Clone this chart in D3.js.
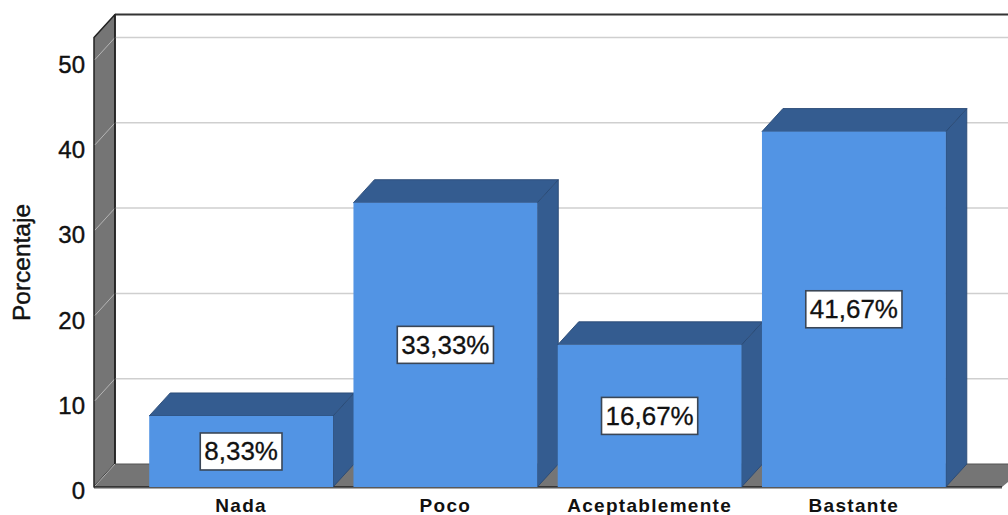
<!DOCTYPE html>
<html>
<head>
<meta charset="utf-8">
<script src="https://d3js.org/d3.v7.min.js"></script>
<style>
  html, body { margin: 0; padding: 0; background: #fff; overflow: hidden; }
  svg { display: block; }
  text { font-family: "Liberation Sans", Arial, sans-serif; fill: #111; }
</style>
</head>
<body>
<svg id="chart" width="1008" height="515"></svg>
<script>
  // The data:
  var CATEGORIES = ["Nada", "Poco", "Aceptablemente", "Bastante"];
  var VALUES = [8.33, 33.33, 16.67, 41.67];
  var LABELS = ["8,33%", "33,33%", "16,67%", "41,67%"];
  var Y_TICKS = [0, 10, 20, 30, 40, 50];

  // Depth of the 3d effect (in screen pixels):
  var DX = 21;
  var DY = -23;

  var LEFT = 94;
  var RIGHT = 1002;
  var BASE = 487;
  var WALL_TOP = 52.7; // value reached by the front edge of the wall

  var svg = d3.select("#chart");

  var y = d3.scaleLinear().domain([0, 50]).range([BASE, 60.5]);
  var x = d3.scaleBand()
    .domain(CATEGORIES)
    .range([139, 956])
    .paddingInner(0.1)
    .paddingOuter(0.05);

  function poly(sel, pts, fill, stroke, sw) {
    return sel.append("polygon")
      .attr("points", pts.map(function (p) { return p.join(","); }).join(" "))
      .attr("fill", fill)
      .attr("stroke", stroke || "none")
      .attr("stroke-width", sw || 0)
      .attr("stroke-linejoin", "round");
  }

  // Walls and floor:
  var walls = svg.append("g");
  var wall_top = y(WALL_TOP);

  poly(walls, [
    [LEFT, wall_top], [LEFT + DX, wall_top + DY],
    [LEFT + DX, BASE + DY], [LEFT, BASE]
  ], "#757575", "#222", 1.5);

  poly(walls, [
    [LEFT, BASE], [LEFT + DX, BASE + DY],
    [1030, BASE + DY], [RIGHT, BASE]
  ], "#757575");

  // Gridlines, back wall and then the slanted part:
  walls.selectAll(".grid")
    .data(Y_TICKS.slice(1))
    .enter().append("line")
    .attr("class", "grid")
    .attr("x1", LEFT + DX)
    .attr("x2", 1008)
    .attr("y1", function (d) { return y(d) + DY; })
    .attr("y2", function (d) { return y(d) + DY; })
    .attr("stroke", "#cfcfcf")
    .attr("stroke-width", 1.5);

  walls.selectAll(".grid_side")
    .data(Y_TICKS)
    .enter().append("line")
    .attr("class", "grid_side")
    .attr("x1", LEFT + 1)
    .attr("x2", LEFT + DX)
    .attr("y1", function (d) { return y(d) - 1; })
    .attr("y2", function (d) { return y(d) + DY; })
    .attr("stroke", "#b5b5b5")
    .attr("stroke-width", 1);

  // Wall edges:
  walls.append("line")
    .attr("x1", LEFT + DX).attr("x2", 1008)
    .attr("y1", wall_top + DY).attr("y2", wall_top + DY)
    .attr("stroke", "#333").attr("stroke-width", 2);
  walls.append("line")
    .attr("x1", LEFT + DX).attr("x2", LEFT + DX)
    .attr("y1", wall_top + DY).attr("y2", BASE + DY)
    .attr("stroke", "#222").attr("stroke-width", 1.5);
  walls.append("line")
    .attr("x1", LEFT + DX).attr("x2", 1008)
    .attr("y1", BASE + DY).attr("y2", BASE + DY)
    .attr("stroke", "#555").attr("stroke-width", 1);
  walls.append("line")
    .attr("x1", LEFT).attr("x2", RIGHT)
    .attr("y1", BASE).attr("y2", BASE)
    .attr("stroke", "#222").attr("stroke-width", 1.5);
  walls.append("line")
    .attr("x1", LEFT).attr("x2", RIGHT)
    .attr("y1", BASE + 1.5).attr("y2", BASE + 1.5)
    .attr("stroke", "#aaa").attr("stroke-width", 1);

  // Bars:
  var bars = svg.append("g");
  CATEGORIES.forEach(function (c, i) {
    var x0 = x(c);
    var x1 = x0 + x.bandwidth();
    var top = y(VALUES[i]);
    var g = bars.append("g");

    poly(g, [
      [x1, top], [x1 + DX, top + DY], [x1 + DX, BASE + DY], [x1, BASE]
    ], "#345c90", "#294a75", 0.9);
    poly(g, [
      [x0, top], [x0 + DX, top + DY], [x1 + DX, top + DY], [x1, top]
    ], "#345c90", "#294a75", 0.9);
    g.append("rect")
      .attr("x", x0)
      .attr("y", top)
      .attr("width", x.bandwidth())
      .attr("height", BASE - top)
      .attr("fill", "#5294e4");
  });

  // Value labels:
  CATEGORIES.forEach(function (c, i) {
    var cx = x(c) + x.bandwidth() / 2;
    var cy = (y(VALUES[i]) + BASE) / 2;
    var g = svg.append("g");
    var rect = g.append("rect");
    var t = g.append("text")
      .attr("x", cx)
      .attr("y", cy + 9)
      .attr("text-anchor", "middle")
      .attr("stroke", "#111")
      .attr("stroke-width", 0.3)
      .style("font-size", "26px")
      .text(LABELS[i]);
    var w = t.node().getComputedTextLength() + 8;
    rect.attr("x", cx - w / 2)
      .attr("y", cy - 18.5)
      .attr("width", w)
      .attr("height", 37)
      .attr("fill", "#fff")
      .attr("stroke", "#3a4656")
      .attr("stroke-width", 1.6);
  });

  // y-axis:
  var y_axis = svg.append("g")
    .attr("transform", "translate(" + LEFT + ",4)")
    .call(d3.axisLeft(y).tickValues(Y_TICKS).tickSize(0).tickPadding(9)
      .tickFormat(d3.format("d")));
  y_axis.select(".domain").remove();
  y_axis.selectAll("text")
    .style("font-family", "\"Liberation Sans\", Arial, sans-serif")
    .style("font-size", "24px")
    .attr("stroke", "#111")
    .attr("stroke-width", 0.4)
    .attr("fill", "#111");

  svg.append("text")
    .attr("transform", "translate(30,262.5) rotate(-90)")
    .attr("text-anchor", "middle")
    .attr("stroke", "#111")
    .attr("stroke-width", 0.4)
    .style("font-size", "24.5px")
    .text("Porcentaje");

  // x-axis:
  var x_axis = svg.append("g")
    .attr("transform", "translate(0," + BASE + ")")
    .call(d3.axisBottom(x).tickSize(0).tickPadding(12));
  x_axis.select(".domain").remove();
  x_axis.selectAll("text")
    .style("font-family", "\"Liberation Sans\", Arial, sans-serif")
    .style("font-size", "19px")
    .style("font-weight", "bold")
    .style("letter-spacing", "1.3px")
    .attr("fill", "#111");
</script>
</body>
</html>
